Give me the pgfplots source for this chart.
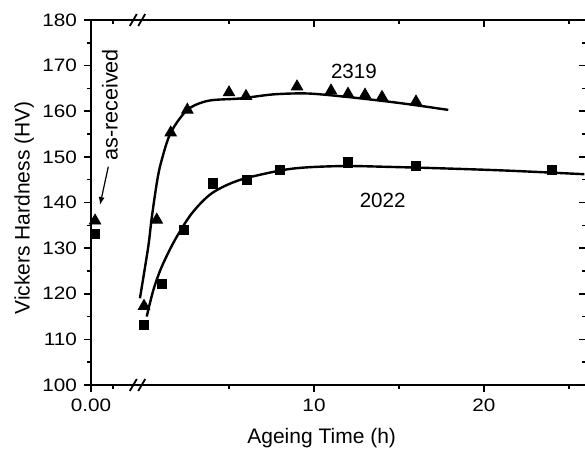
\documentclass[border=0pt]{standalone}
\usepackage{fontspec}
\setmainfont{Liberation Sans}
\newfontfamily\tickfont{Liberation Sans}[FakeStretch=1.15]
\usepackage{pgfplots}
\pgfplotsset{compat=1.18}
\usetikzlibrary{arrows.meta}

% x is ageing time in h; the strip left of the break holds the as-received values
\pgfplotsset{
  hvframe/.style={
    scale only axis, width=247.5pt, height=182.5pt,
    xmin=-3.118, xmax=26, ymin=100, ymax=180,
    axis line style={line width=0.9pt},
    major tick length=3.5pt, minor tick length=2pt,
    every tick/.style={black, line width=0.8pt},
    xtick={-3.118,10,20}, minor xtick={-1.81,5,15,25},
    ytick={100,110,...,180}, minor ytick={105,115,...,175},
  },
}

\begin{document}
\begin{tikzpicture}[font=\fontsize{10.3}{12}\selectfont]
\begin{axis}[hvframe,
  tick align=outside, xtick pos=bottom, ytick pos=left,
  xticklabels={0.00,10,20},
  /pgf/number format/assume math mode=true,
  tick label style={font=\tickfont\fontsize{9}{10.5}\selectfont},
  label style={font=\fontsize{10.5}{12}\selectfont},
  xlabel={Ageing Time (h)},
  ylabel={Vickers Hardness (HV)},
  xlabel style={at={(axis description cs:0.466,-0.146)}, anchor=center},
  ylabel style={at={(axis description cs:-0.135,0.485)}, anchor=center},
  clip=false,
]
\coordinate (sw) at (rel axis cs:0,0);

% fitted curves
\addplot[smooth, no marks, line width=1.2pt] coordinates {
  (-0.24,119.0) (0.25,130.3) (0.45,136.5) (0.78,144.9) (1.04,149.3)
  (1.57,155.3) (2.55,160.3) (3.78,162.3) (5.65,162.8) (7.61,163.7)
  (9.57,163.9) (11.53,163.3) (13.49,162.5) (15.45,161.6) (17.9,160.3)
};
\addplot[smooth, no marks, line width=1.2pt] coordinates {
  (0.16,115.0) (0.55,120.8) (1.04,125.9) (1.82,131.8) (2.81,137.6)
  (3.98,142.0) (5.6,144.9) (8.0,147.0) (9.57,147.7) (11.92,148.0)
  (14.47,147.8) (17.41,147.5) (21.3,147.0) (25.9,146.2)
};

% 2319
\addplot[only marks, mark=triangle*, mark size=3.3pt] coordinates {
  (-2.88,136.0)
  (0,117.3) (0.75,136.2) (1.57,155.3) (2.55,160.3) (5.0,164.1) (6.0,163.3)
  (9.0,165.4) (11.0,164.5) (12.0,163.8) (13.0,163.6) (14.0,163.1) (16.0,162.1)
};
% 2022
\addplot[only marks, mark=square*, mark size=2.3pt] coordinates {
  (-2.88,133.1)
  (0,113.2) (1.04,122.1) (2.37,134.0) (4.04,144.2) (6.04,144.9)
  (8.0,147.1) (12.0,148.8) (16.0,148.1) (24.0,147.1)
};

\node at (axis cs:12.35,168.7) {2319};
\node at (axis cs:14.04,140.4) {2022};
\node[rotate=90, font=\fontsize{10.8}{12}\selectfont] at (axis cs:-2.0,161.4) {as-received};
\draw[line width=0.6pt, -{Latex[length=4pt,width=3pt]}] (axis cs:-2.1,147.85) -- (axis cs:-2.59,139.45);

% axis break marks
\draw[line width=0.9pt] ([shift={(-1.75pt,-3pt)}]axis cs:-0.63,100) -- ([shift={(1.75pt,3pt)}]axis cs:-0.63,100);
\draw[line width=0.9pt] ([shift={(-1.75pt,-3pt)}]axis cs:-0.135,100) -- ([shift={(1.75pt,3pt)}]axis cs:-0.135,100);
\draw[line width=0.9pt] ([shift={(-1.75pt,-3pt)}]axis cs:-0.63,180) -- ([shift={(1.75pt,3pt)}]axis cs:-0.63,180);
\draw[line width=0.9pt] ([shift={(-1.75pt,-3pt)}]axis cs:-0.135,180) -- ([shift={(1.75pt,3pt)}]axis cs:-0.135,180);
\end{axis}

% mirrored ticks on top and right point inwards
\begin{axis}[hvframe,
  tick align=inside, xtick pos=top, ytick pos=right,
  xticklabels={}, yticklabels={},
]
\end{axis}

\pgfresetboundingbox
\path[use as bounding box] ([shift={(-45.5pt,-32.5pt)}]sw) rectangle ([shift={(247pt,192.5pt)}]sw);
\end{tikzpicture}
\end{document}
